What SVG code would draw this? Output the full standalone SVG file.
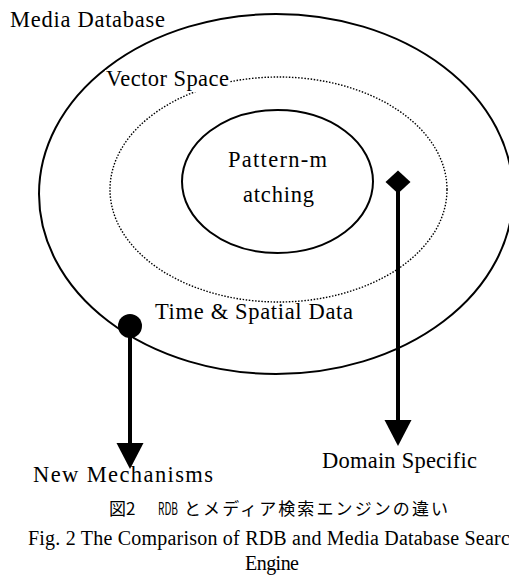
<svg xmlns="http://www.w3.org/2000/svg" width="509" height="583" viewBox="0 0 509 583">
<style>
.lbl{font-family:"Liberation Serif","Times New Roman",serif;font-size:22.5px;fill:#000}
.cap{font-family:"Liberation Serif","Times New Roman",serif;font-size:20px;fill:#000}
.jp{font-family:"Noto Sans CJK JP",sans-serif;font-size:17px;fill:#000}
.ring{fill:none;stroke:#000;stroke-width:2}
.dots{fill:none;stroke:#000;stroke-width:1.4;stroke-dasharray:1.5 1.6}
.conn{stroke:#000;stroke-width:4;fill:none}
</style>
<defs>
<marker id="arrow" markerUnits="userSpaceOnUse" markerWidth="30" markerHeight="30" viewBox="0 -15 27 30" refX="0" refY="0" orient="auto">
<path d="M0,-13.5 L26,0 L0,13.5 z" fill="#000"/>
</marker>
<marker id="dot" markerUnits="userSpaceOnUse" markerWidth="26" markerHeight="26" viewBox="-13 -13 26 26" refX="0" refY="0" orient="auto">
<circle cx="0" cy="0" r="12" fill="#000"/>
</marker>
<marker id="diamond" markerUnits="userSpaceOnUse" markerWidth="28" markerHeight="28" viewBox="-14 -14 28 28" refX="0" refY="0" orient="auto">
<path d="M-11.5,0 L0,-12.5 L11.5,0 L0,12.5 z" fill="#000"/>
</marker>
</defs>
<rect width="509" height="583" fill="#fff"/>
<g id="media-database">
<ellipse class="ring" cx="276" cy="194" rx="237" ry="180"/>
<text class="lbl" x="10" y="27" textLength="155" lengthAdjust="spacing">Media Database</text>
</g>
<g id="vector-space">
<ellipse class="dots" cx="278.5" cy="189.5" rx="168.5" ry="112.5"/>
<rect x="105" y="70" width="125" height="22" fill="#fff"/>
<text class="lbl" x="106" y="86" textLength="123" lengthAdjust="spacing">Vector Space</text>
</g>
<g id="pattern-matching">
<ellipse class="ring" cx="277.5" cy="181.5" rx="95.5" ry="71.5"/>
<text class="lbl" x="228" y="167" textLength="99" lengthAdjust="spacing">Pattern-m</text>
<text class="lbl" x="243" y="202" textLength="71" lengthAdjust="spacing">atching</text>
</g>
<g id="time-spatial-data">
<text class="lbl" x="155" y="319" textLength="198" lengthAdjust="spacing">Time &amp; Spatial Data</text>
</g>
<g id="connectors">
<line class="conn" x1="130" y1="326" x2="130" y2="443" marker-start="url(#dot)" marker-end="url(#arrow)"/>
<line class="conn" x1="398" y1="182" x2="398" y2="420" marker-start="url(#diamond)" marker-end="url(#arrow)"/>
</g>
<g id="new-mechanisms">
<text class="lbl" x="33" y="482" textLength="180" lengthAdjust="spacing">New Mechanisms</text>
</g>
<g id="domain-specific">
<text class="lbl" x="322" y="468" textLength="155" lengthAdjust="spacing">Domain Specific</text>
</g>
<g id="caption">
<text class="jp" x="109" y="515">図2</text>
<text class="jp" x="158" y="515" textLength="20" lengthAdjust="spacingAndGlyphs">RDB</text>
<text class="jp" x="184" y="515" textLength="264" lengthAdjust="spacing">とメディア検索エンジンの違い</text>
<text class="cap" x="28" y="545" textLength="492" lengthAdjust="spacing">Fig. 2 The Comparison of RDB and Media Database Search</text>
<text class="cap" x="245" y="570" textLength="54" lengthAdjust="spacing">Engine</text>
</g>
</svg>
